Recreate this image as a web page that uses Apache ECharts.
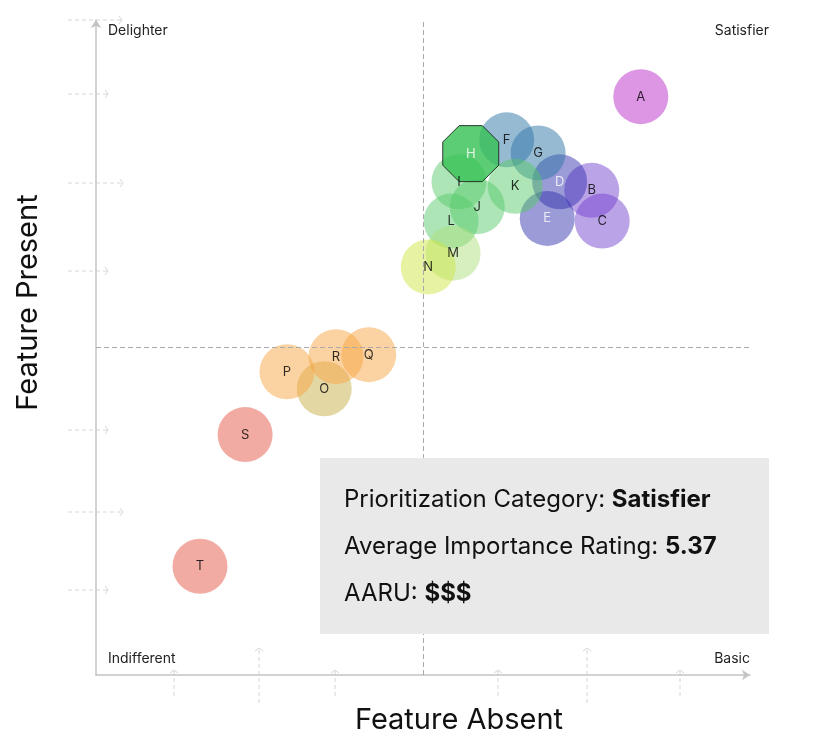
<!DOCTYPE html>
<html>
<head>
<meta charset="utf-8">
<script src="https://cdn.jsdelivr.net/npm/echarts@6/dist/echarts.min.js"></script>
<style>
  html, body { margin: 0; padding: 0; background: #fff; }
  #chart { width: 816px; height: 749px; }
</style>
</head>
<body>
<div id="chart"></div>
<script>
// feature points (0..10 on both axes, 5 = quadrant split)
const names = ['A','B','C','D','E','F','G','I','J','K','L','M','N','O','P','Q','R','S','T','H'];
const absentScore  = [8.33,7.58,7.74,7.09,6.90,6.28,6.76,5.55,5.83,6.41,5.43,5.46,5.08,3.49,2.92,4.17,3.67,2.28,1.59,5.73];
const presentScore = [8.83,7.40,6.93,7.53,6.97,8.17,7.97,7.53,7.15,7.46,6.93,6.44,6.23,4.37,4.63,4.89,4.86,3.67,1.66,7.96];
const groups = ['pink','violet','violet','navy','navy','steel','steel','green','green','green','green','lime','yellow','khaki','orange','orange','orange','red','red','selected'];

const selectedName = 'H';
const quadrants = ['Delighter','Satisfier','Indifferent','Basic'];
const infoLines = [
  ['Prioritization Category: ', 'Satisfier'],
  ['Average Importance Rating: ', '5.37'],
  ['AARU: ', '$$$']
];

// colours per group
const palette = {
  pink:   'rgba(194,68,206,0.7)',
  violet: 'rgba(113,63,205,0.6)',
  navy:   'rgba(47,47,172,0.6)',
  steel:  'rgba(45,115,165,0.62)',
  green:  'rgba(83,200,103,0.6)',
  lime:   'rgba(172,222,122,0.6)',
  yellow: 'rgba(205,227,63,0.6)',
  khaki:  'rgba(197,172,63,0.6)',
  orange: 'rgba(247,163,63,0.6)',
  red:    'rgba(227,80,63,0.6)',
  selected: '#33c152'
};
const whiteLabel = ['D','E','H'];
const octagon = 'path://M29.3,0 L70.7,0 L100,29.3 L100,70.7 L70.7,100 L29.3,100 L0,70.7 L0,29.3 Z';

const points = names.map((n, i) => {
  const item = {
    name: n,
    value: [absentScore[i], presentScore[i]],
    itemStyle: { color: palette[groups[i]] },
    label: { color: whiteLabel.includes(n) ? '#fff' : '#000' }
  };
  if (n === selectedName) {
    item.symbol = octagon;
    item.symbolSize = 56;
    item.itemStyle.borderColor = '#111';
    item.itemStyle.borderWidth = 1;
  }
  return item;
});

// faint dashed arrows along the axes (decoration)
const deco = '#d6d6d6';
function hArrow(x1, x2, y) {
  return { type: 'group', children: [
    { type: 'line', shape: { x1: x1, y1: y, x2: x2, y2: y }, style: { stroke: deco, lineDash: [4, 3], lineWidth: 1 } },
    { type: 'polyline', shape: { points: [[x2 - 3, y - 4], [x2, y], [x2 - 3, y + 4]] }, style: { stroke: deco, fill: null, lineWidth: 1 } }
  ]};
}
function vArrow(x, y1, y2) {
  return { type: 'group', children: [
    { type: 'line', shape: { x1: x, y1: y2, x2: x, y2: y1 }, style: { stroke: deco, lineDash: [4, 3], lineWidth: 1 } },
    { type: 'polyline', shape: { points: [[x - 4, y1 + 3], [x, y1], [x + 4, y1 + 3]] }, style: { stroke: deco, fill: null, lineWidth: 1 } }
  ]};
}

const chart = echarts.init(document.getElementById('chart'));
const font = 'Inter, "Noto Sans", sans-serif';
const boxFont = 'Inter, Lato, sans-serif';

const option = {
  animation: false,
  grid: { left: 96, right: 66, top: 20, bottom: 74 },
  xAxis: {
    type: 'value', min: 0, max: 10,
    name: 'Feature Absent', nameLocation: 'middle', nameGap: 31,
    nameTextStyle: { fontSize: 29, color: '#111', fontFamily: font, padding: [0, 0, 0, 72] },
    axisLine: { show: true, symbol: ['none', 'arrow'], symbolSize: [8, 8], lineStyle: { color: '#c4c4c4', width: 1.5 } },
    axisTick: { show: false }, axisLabel: { show: false }, splitLine: { show: false }
  },
  yAxis: {
    type: 'value', min: 0, max: 10,
    name: 'Feature Present', nameLocation: 'middle', nameGap: 53,
    nameTextStyle: { fontSize: 29, color: '#111', fontFamily: font, padding: [0, 0, 0, 90] },
    axisLine: { show: true, symbol: ['none', 'arrow'], symbolSize: [8, 8], lineStyle: { color: '#c4c4c4', width: 1.5 } },
    axisTick: { show: false }, axisLabel: { show: false }, splitLine: { show: false }
  },
  series: [{
    type: 'scatter',
    symbolSize: 55,
    data: points,
    label: { show: true, position: 'inside', formatter: '{b}', fontSize: 13, fontFamily: font },
    markLine: {
      silent: true, symbol: 'none', label: { show: false },
      lineStyle: { color: '#aaa', type: [5, 3], width: 1 },
      data: [{ xAxis: 5 }, { yAxis: 5 }]
    }
  }],
  graphic: [
    hArrow(68, 122, 20), hArrow(68, 108, 94), hArrow(68, 123, 183), hArrow(68, 108, 271),
    hArrow(68, 108, 430), hArrow(68, 123, 512), hArrow(68, 108, 590),
    vArrow(174, 670, 696), vArrow(259, 648, 703), vArrow(335, 670, 696),
    vArrow(498, 670, 696), vArrow(587, 648, 703), vArrow(680, 670, 696),
    { type: 'text', left: 108, top: 24, style: { text: quadrants[0], fontSize: 14, fill: '#222', fontFamily: font } },
    { type: 'text', right: 47, top: 24, style: { text: quadrants[1], fontSize: 14, fill: '#222', fontFamily: font } },
    { type: 'text', left: 108, top: 652, style: { text: quadrants[2], fontSize: 14, fill: '#222', fontFamily: font } },
    { type: 'text', right: 66, top: 652, style: { text: quadrants[3], fontSize: 14, fill: '#222', fontFamily: font } },
    { type: 'rect', shape: { x: 320, y: 458, width: 449, height: 176 }, style: { fill: '#e9e9e9' }, z: 100 },
    ...infoLines.map((ln, i) => ({
      type: 'text', x: 344, y: 500 + i * 47, z: 101,
      style: {
        text: '{a|' + ln[0] + '}{b|' + ln[1] + '}',
        verticalAlign: 'middle',
        rich: {
          a: { fontSize: 24, fontFamily: boxFont, fill: '#111', color: '#111' },
          b: { fontSize: 24, fontFamily: boxFont, fontWeight: 'bold', fill: '#111', color: '#111' }
        }
      }
    }))
  ]
};

chart.setOption(option);
</script>
</body>
</html>
